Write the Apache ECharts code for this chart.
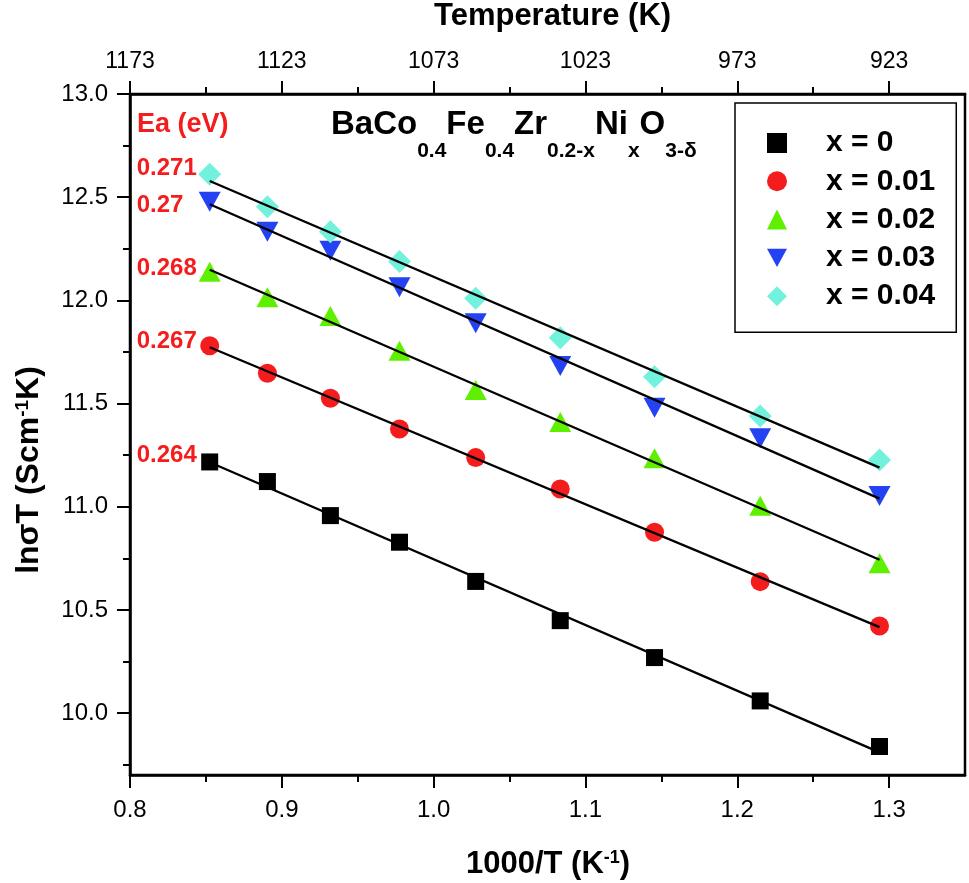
<!DOCTYPE html>
<html>
<head>
<meta charset="utf-8">
<script src="https://cdn.jsdelivr.net/npm/echarts@6/dist/echarts.min.js"></script>
<style>
html,body{margin:0;padding:0;background:#fff;}
#chart{width:969px;height:883px;}
</style>
</head>
<body>
<div id="chart"></div>
<script>
// ---- data ----
var xValues = [0.8525, 0.8905, 0.932, 0.9775, 1.0277, 1.0834, 1.1455, 1.2151, 1.2937];
var seriesNames = ['x = 0', 'x = 0.01', 'x = 0.02', 'x = 0.03', 'x = 0.04'];
var y_x0   = [11.217, 11.122, 10.957, 10.828, 10.638, 10.448, 10.269, 10.059, 9.838];
var y_x001 = [11.780, 11.647, 11.526, 11.377, 11.238, 11.086, 10.876, 10.637, 10.422];
var y_x002 = [12.139, 12.015, 11.924, 11.756, 11.566, 11.410, 11.235, 11.005, 10.726];
var y_x003 = [12.478, 12.333, 12.241, 12.063, 11.889, 11.682, 11.480, 11.332, 11.052];
var y_x004 = [12.611, 12.454, 12.333, 12.188, 12.010, 11.819, 11.630, 11.440, 11.227];
var eaLabels = ['0.264', '0.267', '0.268', '0.27', '0.271'];
var xTicks = [0.8, 0.9, 1.0, 1.1, 1.2, 1.3];
var xMinorTicks = [0.85, 0.95, 1.05, 1.15, 1.25];
var topTickLabels = ['1173', '1123', '1073', '1023', '973', '923'];
var yTicks = [10.0, 10.5, 11.0, 11.5, 12.0, 12.5, 13.0];
var yMinorTicks = [9.75, 10.25, 10.75, 11.25, 11.75, 12.25, 12.75];

// ---- styles ----
var FONT = "'Liberation Sans', Arial, Helvetica, sans-serif";
var RED = '#f41c1c';
var allY = [y_x0, y_x001, y_x002, y_x003, y_x004];
var colors = ['#000000', '#f41c1c', '#5ef000', '#2442f2', '#72f2dc'];
var symbols = ['rect', 'circle', 'triangle', 'triangle', 'diamond'];
var symbolSizes = [17, 19, [22, 20], [22, 20], 23];
var symbolRotates = [0, 0, 0, 180, 0];
var legendIcons = ['rect', 'circle', 'triangle', 'path://M0,0L22,0L11,20Z', 'diamond'];
var labelDy = [-7, -4, -3, 4, -6];

function linFit(xs, ys) {
  var n = xs.length, sx = 0, sy = 0, sxx = 0, sxy = 0;
  for (var i = 0; i < n; i++) { sx += xs[i]; sy += ys[i]; sxx += xs[i] * xs[i]; sxy += xs[i] * ys[i]; }
  var b = (n * sxy - sx * sy) / (n * sxx - sx * sx);
  var a = (sy - b * sx) / n;
  return [[xs[0], a + b * xs[0]], [xs[n - 1], a + b * xs[n - 1]]];
}

var series = [];
allY.forEach(function (ys, i) {
  var data = xValues.map(function (x, j) {
    if (j === 0) {
      return {
        value: [x, ys[j]],
        label: {
          show: true, position: 'inside', align: 'left', verticalAlign: 'middle', offset: [-73, labelDy[i]],
          formatter: eaLabels[i], color: RED, fontSize: 24, fontWeight: 'bold', fontFamily: FONT
        }
      };
    }
    return [x, ys[j]];
  });
  series.push({
    name: seriesNames[i], type: 'scatter', data: data,
    symbol: symbols[i], symbolSize: symbolSizes[i], symbolRotate: symbolRotates[i],
    itemStyle: { color: colors[i], opacity: 1 },
    emphasis: { disabled: true }, z: 2
  });
});
allY.forEach(function (ys, i) {
  series.push({
    name: 'fit' + i, type: 'line', data: linFit(xValues, ys),
    symbol: 'none', lineStyle: { color: '#000', width: 2.3 }, silent: true, z: 3
  });
});

var axisLineStyle = { color: '#000', width: 2.5 };
var tickLine = { color: '#000', width: 2 };

var option = {
  animation: false,
  backgroundColor: '#fff',
  textStyle: { fontFamily: FONT },
  grid: { left: 130, right: 4, top: 94, bottom: 108, show: true, borderColor: '#000', borderWidth: 2.5, containLabel: false },
  legend: {
    data: seriesNames.map(function (n, i) { return { name: n, icon: legendIcons[i] }; }),
    orient: 'vertical', left: 735, top: 103,
    itemWidth: 20, itemHeight: 20, itemGap: 8.3,
    padding: [25, 21, 21, 32],
    borderColor: '#000', borderWidth: 1.5, backgroundColor: '#fff',
    selectedMode: false,
    textStyle: { fontSize: 30, fontWeight: 'bold', color: '#000', fontFamily: FONT, lineHeight: 30, padding: [0, 0, 0, 34] }
  },
  xAxis: [
    {
      type: 'value', min: 0.8, max: 1.35, position: 'bottom',
      axisLine: { lineStyle: axisLineStyle },
      axisTick: { customValues: xTicks, length: 13, lineStyle: tickLine },
      axisLabel: { customValues: xTicks, fontSize: 24, color: '#000', margin: 23, fontFamily: FONT,
        formatter: function (v) { return v.toFixed(1); } },
      splitLine: { show: false }
    },
    {
      type: 'value', min: 0.8, max: 1.35, position: 'bottom',
      axisLine: { show: false },
      axisTick: { customValues: xMinorTicks, length: 7, lineStyle: tickLine },
      axisLabel: { show: false }, splitLine: { show: false }
    },
    {
      type: 'value', min: 0.8, max: 1.35, position: 'top',
      axisLine: { lineStyle: axisLineStyle },
      axisTick: { customValues: xTicks, length: 13, lineStyle: tickLine },
      axisLabel: { customValues: xTicks, fontSize: 23, color: '#000', margin: 21, fontFamily: FONT,
        formatter: function (v) {
          var k = -1;
          for (var i = 0; i < xTicks.length; i++) { if (Math.abs(xTicks[i] - v) < 1e-6) k = i; }
          return k >= 0 ? topTickLabels[k] : '';
        } },
      splitLine: { show: false }
    },
    {
      type: 'value', min: 0.8, max: 1.35, position: 'top',
      axisLine: { show: false },
      axisTick: { customValues: xMinorTicks, length: 7, lineStyle: tickLine },
      axisLabel: { show: false }, splitLine: { show: false }
    }
  ],
  yAxis: [
    {
      type: 'value', min: 9.7, max: 13.0, position: 'left',
      axisLine: { show: true, lineStyle: axisLineStyle },
      axisTick: { show: true, customValues: yTicks, length: 13, lineStyle: tickLine },
      axisLabel: { customValues: yTicks, fontSize: 24, color: '#000', margin: 22, fontFamily: FONT,
        formatter: function (v) { return v.toFixed(1); } },
      splitLine: { show: false }
    },
    {
      type: 'value', min: 9.7, max: 13.0, position: 'left',
      axisLine: { show: false },
      axisTick: { show: true, customValues: yMinorTicks, length: 7, lineStyle: tickLine },
      axisLabel: { show: false }, splitLine: { show: false }
    }
  ],
  graphic: [
    {
      type: 'text', x: 434, y: 1,
      style: { text: 'Temperature (K)', fontSize: 31, fontWeight: 'bold', fontFamily: FONT, fill: '#000', align: 'left', verticalAlign: 'top' }
    },
    {
      type: 'text', x: 466, y: 849,
      style: {
        text: '{b|1000/T (K}{p|-1}{b|)}', align: 'left', verticalAlign: 'top', fill: '#000',
        rich: {
          b: { fontSize: 31, fontWeight: 'bold', fontFamily: FONT, verticalAlign: 'top', fill: '#000' },
          p: { fontSize: 18, fontWeight: 'bold', fontFamily: FONT, verticalAlign: 'top', fill: '#000' }
        }
      }
    },
    {
      type: 'text', x: 13, y: 470, rotation: Math.PI / 2,
      style: {
        text: '{b|ln\u03c3T (Scm}{p|-1}{b|K)}', align: 'center', verticalAlign: 'top', fill: '#000',
        rich: {
          b: { fontSize: 32, fontWeight: 'bold', fontFamily: FONT, verticalAlign: 'top', fill: '#000' },
          p: { fontSize: 19, fontWeight: 'bold', fontFamily: FONT, verticalAlign: 'top', fill: '#000' }
        }
      }
    },
    {
      type: 'text', x: 331, y: 108,
      style: {
        text: '{m|BaCo}{s|0.4}{m|Fe}{s|0.4}{m|Zr}{s|0.2-x}{m|Ni}{s|x}{m|O}{s|3-\u03b4}',
        align: 'left', verticalAlign: 'top', fill: '#000',
        rich: {
          m: { fontSize: 33, fontWeight: 'bold', fontFamily: FONT, verticalAlign: 'top', fill: '#000' },
          s: { fontSize: 21, fontWeight: 'bold', fontFamily: FONT, verticalAlign: 'top', padding: [33, 0, 0, 0], fill: '#000' }
        }
      }
    },
    {
      type: 'text', x: 137, y: 111,
      style: { text: 'Ea (eV)', fontSize: 27, fontWeight: 'bold', fontFamily: FONT, fill: RED, align: 'left', verticalAlign: 'top' }
    }
  ],
  series: series
};

var chart = echarts.init(document.getElementById('chart'), null, { renderer: 'canvas' });
chart.setOption(option);
</script>
</body>
</html>
